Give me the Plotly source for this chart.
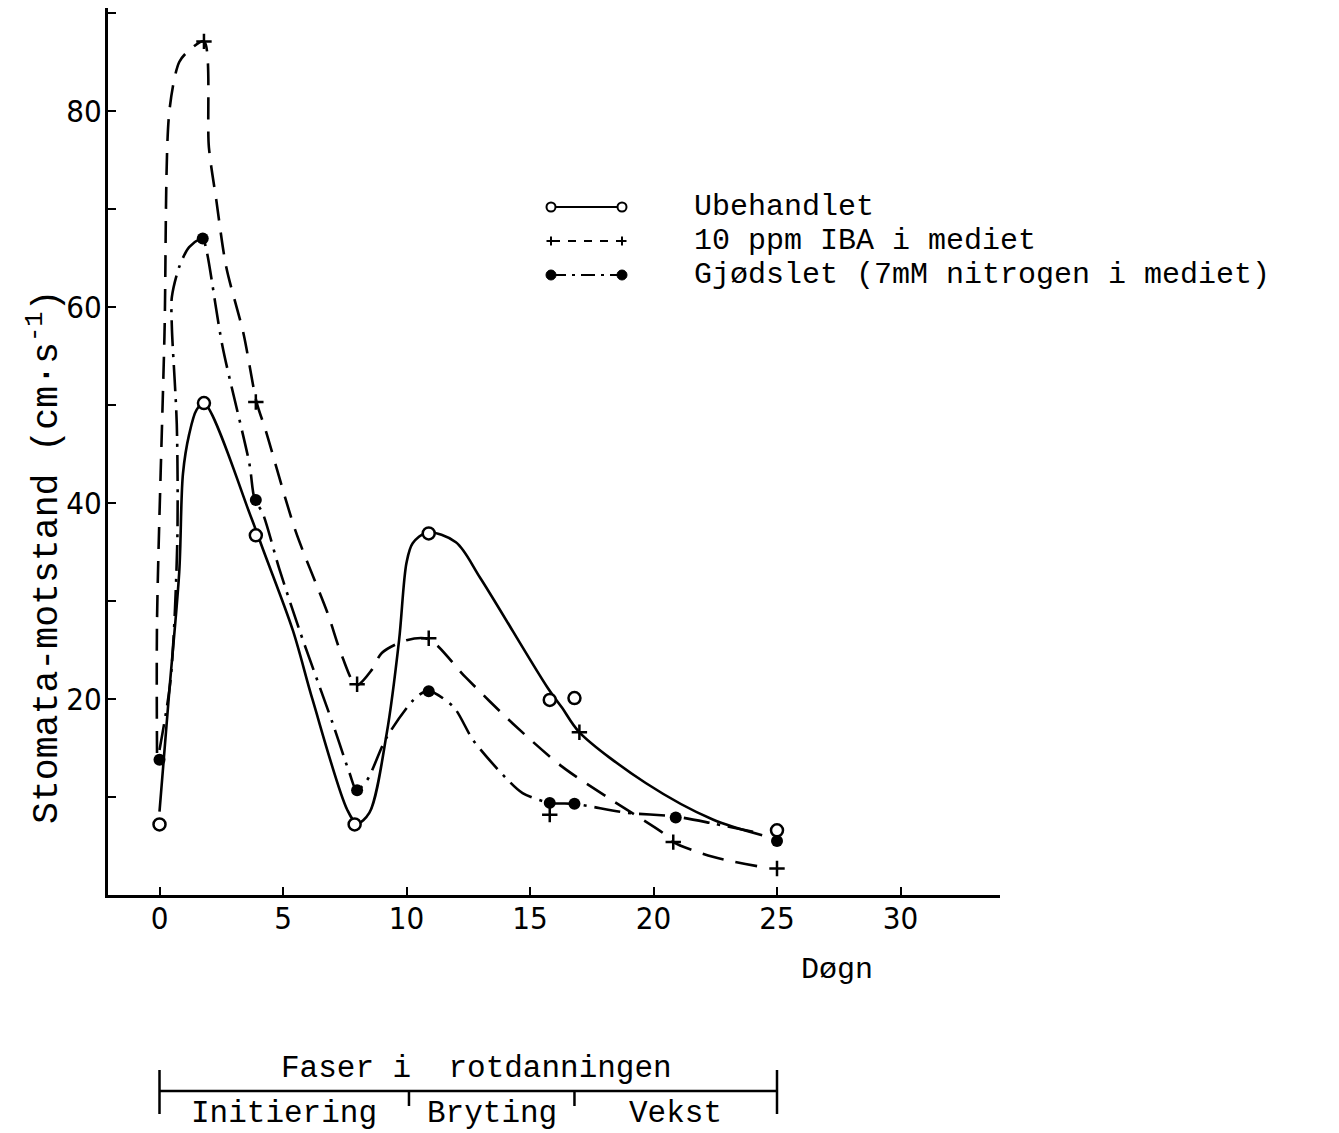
import plotly.graph_objects as go

# ---------------- data ----------------
# measured points
ub_days = [0, 1.8, 3.9, 7.9, 10.9, 15.8, 16.8, 25]
ub_vals = [7.2, 50.2, 36.7, 7.2, 36.9, 19.9, 20.1, 6.6]

iba_days = [1.8, 3.9, 8.0, 10.9, 15.8, 17.0, 20.8, 25]
iba_vals = [87.1, 50.3, 21.5, 26.2, 8.2, 16.6, 5.4, 2.7]

gj_days = [0, 1.75, 3.9, 8.0, 10.9, 15.8, 16.8, 20.9, 25]
gj_vals = [13.8, 67.0, 40.3, 10.7, 20.8, 9.4, 9.3, 7.9, 5.5]

# hand-drawn curves (traced)
ub_curve_x = [0, 0.4, 0.8, 0.95, 1.2, 1.5, 1.8, 3.7, 4.2, 5.4, 6.2, 7.6, 8.0, 8.5, 9.2,
              9.7, 10.0, 10.25, 10.85, 12.0, 13.0, 15.7, 16.3, 17.0, 19.7, 22.4, 24.4]
ub_curve_y = [8.5, 20.9, 33.0, 43.0, 47.0, 49.5, 50.2, 38.6, 35.2, 27.0, 19.9, 8.7, 7.3, 8.4, 16.5,
              26.0, 33.9, 35.9, 37.0, 36.0, 32.3, 21.2, 19.1, 16.6, 11.4, 7.7, 6.1]

iba_curve_x = [-0.1, -0.1, 0.2, 0.4, 0.8, 1.2, 1.8, 2.0, 2.3, 2.7, 3.4, 3.93, 4.3, 5.5, 6.8,
               7.4, 7.97, 8.6, 9.0, 10.0, 10.9, 12.4, 14.3, 16.3, 18.3, 20.4, 20.8, 22.4, 24.3]
iba_curve_y = [14.5, 28.0, 57.0, 80.0, 85.0, 86.2, 87.1, 76.3, 70.9, 64.1, 57.3, 50.3, 47.4, 37.2, 28.8,
               24.3, 21.4, 23.0, 24.7, 26.0, 26.1, 22.2, 17.5, 13.1, 9.7, 6.3, 5.4, 3.9, 2.9]

gj_curve_x = [0, 0.45, 0.72, 0.7, 0.5, 0.5, 0.8, 1.2, 1.74, 1.9, 2.55, 3.64, 3.85, 4.17, 4.86,
              5.67, 7.0, 7.7, 7.98, 8.4, 9.2, 10.4, 10.9, 11.9, 12.7, 14.0, 14.7, 15.8, 16.8,
              18.9, 20.9, 22.4, 24.3]
gj_curve_y = [14.8, 22.0, 36.0, 48.0, 58.0, 61.0, 64.1, 66.1, 67.0, 65.8, 56.0, 44.0, 40.4, 39.0, 33.2,
              27.0, 17.6, 12.4, 10.7, 11.7, 16.1, 20.2, 20.8, 19.2, 15.8, 12.0, 10.4, 9.4, 9.3,
              8.4, 8.0, 7.3, 6.3]

series_names = ["Ubehandlet", "10 ppm IBA i mediet", "Gjødslet (7mM nitrogen i mediet)"]

y_tickvals = [20, 40, 60, 80]
y_minor_dtick = 10
x_tickvals = [0, 5, 10, 15, 20, 25, 30]

phase_bounds = [0, 10.1, 16.8, 25]
phase_names = ["Initiering", "Bryting", "Vekst"]
phase_title = "Faser i  rotdanningen"

# ---------------- figure ----------------
W, H = 1339, 1133
MONO = "Liberation Mono, Courier New, monospace"
NARROW = "Liberation Sans Narrow, DejaVu Sans Condensed, Arial Narrow, Liberation Sans, sans-serif"
LW = 2.6

fig = go.Figure()
fig.add_trace(go.Scatter(x=ub_curve_x, y=ub_curve_y, mode="lines",
                         line=dict(color="black", width=LW, shape="spline", smoothing=0.9),
                         showlegend=False, hoverinfo="skip"))
fig.add_trace(go.Scatter(x=iba_curve_x, y=iba_curve_y, mode="lines",
                         line=dict(color="black", width=LW, shape="spline", smoothing=0.8,
                                   dash="22px,12px"),
                         showlegend=False, hoverinfo="skip"))
fig.add_trace(go.Scatter(x=gj_curve_x, y=gj_curve_y, mode="lines",
                         line=dict(color="black", width=LW, shape="spline", smoothing=0.8,
                                   dash="26px,8px,3px,8px"),
                         showlegend=False, hoverinfo="skip"))
fig.add_trace(go.Scatter(x=ub_days, y=ub_vals, mode="markers", name=series_names[0],
                         marker=dict(symbol="circle", size=12, color="white",
                                     line=dict(color="black", width=2.5)),
                         showlegend=False))
fig.add_trace(go.Scatter(x=iba_days, y=iba_vals, mode="markers", name=series_names[1],
                         marker=dict(symbol="cross-thin", size=11,
                                     line=dict(color="black", width=2.5)),
                         showlegend=False))
fig.add_trace(go.Scatter(x=gj_days, y=gj_vals, mode="markers", name=series_names[2],
                         marker=dict(symbol="circle", size=12, color="black"),
                         showlegend=False))

def px_x(p):
    return p / W

def px_y(p):
    return 1 - p / H

shapes = []
annotations = []

# ---- custom legend ----
leg_rows = [207, 241, 275]
leg_dash = ["solid", "8px,8px", "14px,6px,3px,6px"]
for i, name in enumerate(series_names):
    yy = px_y(leg_rows[i])
    shapes.append(dict(type="line", xref="paper", yref="paper",
                       x0=px_x(552), x1=px_x(620), y0=yy, y1=yy,
                       line=dict(color="black", width=2, dash=leg_dash[i])))
    for cx in (551, 622):
        if i == 0:
            shapes.append(dict(type="circle", xref="paper", yref="paper",
                               x0=px_x(cx - 4.5), x1=px_x(cx + 4.5),
                               y0=px_y(leg_rows[i] + 4.5), y1=px_y(leg_rows[i] - 4.5),
                               fillcolor="white", line=dict(color="black", width=2)))
        elif i == 1:
            shapes.append(dict(type="line", xref="paper", yref="paper",
                               x0=px_x(cx - 4.5), x1=px_x(cx + 4.5), y0=yy, y1=yy,
                               line=dict(color="black", width=2)))
            shapes.append(dict(type="line", xref="paper", yref="paper",
                               x0=px_x(cx), x1=px_x(cx),
                               y0=px_y(leg_rows[i] - 4.5), y1=px_y(leg_rows[i] + 4.5),
                               line=dict(color="black", width=2)))
        else:
            shapes.append(dict(type="circle", xref="paper", yref="paper",
                               x0=px_x(cx - 5), x1=px_x(cx + 5),
                               y0=px_y(leg_rows[i] + 5), y1=px_y(leg_rows[i] - 5),
                               fillcolor="black", line=dict(color="black", width=1)))
    annotations.append(dict(xref="paper", yref="paper", x=px_x(692), y=yy,
                            xanchor="left", yanchor="middle", showarrow=False,
                            text=name, font=dict(family=MONO, size=30, color="black")))

# ---- phase bar ----
bar_y = px_y(1091)
shapes.append(dict(type="line", xref="x", yref="paper",
                   x0=phase_bounds[0], x1=phase_bounds[-1], y0=bar_y, y1=bar_y,
                   line=dict(color="black", width=2.5)))
for j, b in enumerate(phase_bounds):
    if j in (0, len(phase_bounds) - 1):
        y0, y1 = px_y(1070), px_y(1114)
    else:
        y0, y1 = px_y(1091), px_y(1106)
    shapes.append(dict(type="line", xref="x", yref="paper", x0=b, x1=b, y0=y0, y1=y1,
                       line=dict(color="black", width=2.5)))
annotations.append(dict(xref="x", yref="paper", x=(phase_bounds[0] + phase_bounds[-1]) / 2 + 0.35,
                        y=px_y(1068), xanchor="center", yanchor="middle", showarrow=False,
                        text=phase_title.replace(" ", "&nbsp;"),
                        font=dict(family=MONO, size=31, color="black")))
for j, nm in enumerate(phase_names):
    annotations.append(dict(xref="x", yref="paper",
                            x=(phase_bounds[j] + phase_bounds[j + 1]) / 2,
                            y=px_y(1113), xanchor="center", yanchor="middle", showarrow=False,
                            text=nm, font=dict(family=MONO, size=31, color="black")))

# ---- axis titles ----
annotations.append(dict(xref="paper", yref="paper", x=px_x(837), y=px_y(970),
                        xanchor="center", yanchor="middle", showarrow=False,
                        text="Døgn", font=dict(family=MONO, size=30, color="black")))
annotations.append(dict(xref="paper", yref="paper", x=px_x(44), y=px_y(557),
                        xanchor="center", yanchor="middle", showarrow=False, textangle=-90,
                        text="Stomata-motstand (cm·s<sup>-1</sup>)",
                        font=dict(family=MONO, size=36.5, color="black")))

x0p, x1p = 108, 1000
y_top, y_bot = 8, 895
xscale = 24.7
yscale = 9.8

fig.update_layout(
    width=W, height=H,
    margin=dict(l=0, r=0, t=0, b=0),
    paper_bgcolor="white", plot_bgcolor="white",
    shapes=shapes, annotations=annotations,
    xaxis=dict(domain=[px_x(x0p), px_x(x1p)],
               range=[(x0p - 159.5) / xscale, (x1p - 159.5) / xscale],
               tickvals=x_tickvals, ticks="inside", ticklen=8, tickwidth=2, tickcolor="black",
               showline=True, linecolor="black", linewidth=3, showgrid=False, zeroline=False,
               ticklabelstandoff=-6,
               tickfont=dict(family=NARROW, size=31, color="black")),
    yaxis=dict(domain=[px_y(y_bot), px_y(y_top)],
               range=[0, (y_bot - y_top) / yscale],
               tickvals=y_tickvals,
               ticks="inside", ticklen=8, tickwidth=2, tickcolor="black",
               minor=dict(dtick=y_minor_dtick, ticks="inside", ticklen=8, tickwidth=2,
                          tickcolor="black", showgrid=False),
               showline=True, linecolor="black", linewidth=3, showgrid=False, zeroline=False,
               ticklabelstandoff=-3,
               tickfont=dict(family=NARROW, size=31, color="black")),
)

fig.write_html("out.html")
